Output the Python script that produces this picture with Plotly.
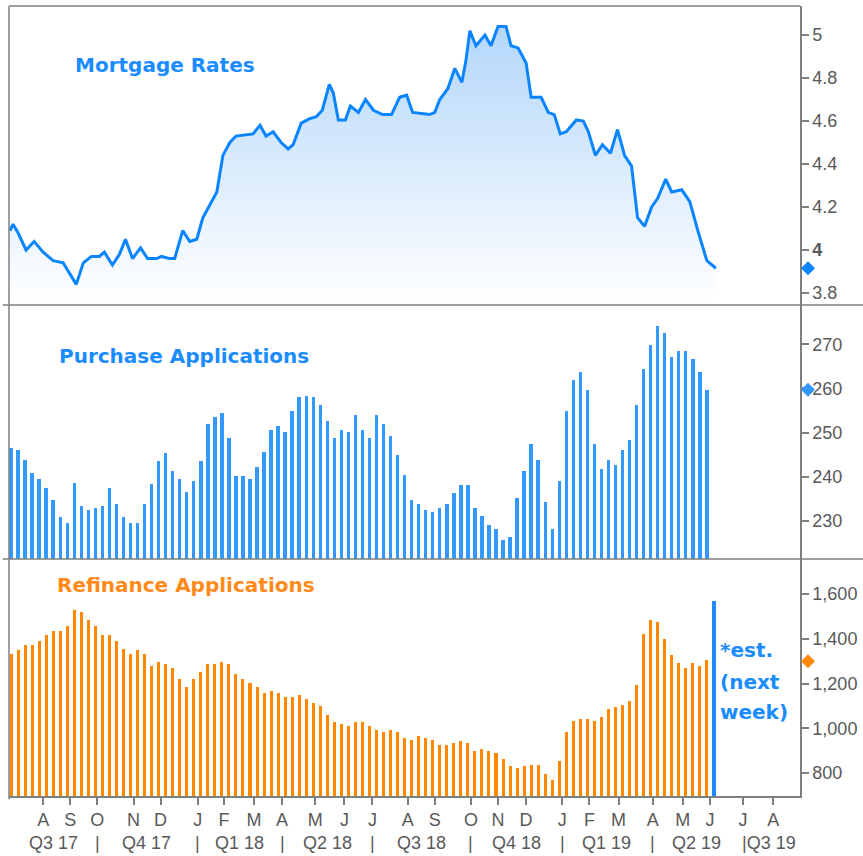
import plotly.graph_objects as go
import datetime as _dt

# ---------------- data ----------------
rate_dates = ["2017-06-29","2017-07-02","2017-07-07","2017-07-15","2017-07-23","2017-08-01","2017-08-11",
    "2017-08-21","2017-09-03","2017-09-10","2017-09-18","2017-09-26","2017-10-01","2017-10-09","2017-10-16",
    "2017-10-22","2017-10-29","2017-11-06","2017-11-13","2017-11-22","2017-11-27","2017-12-05","2017-12-10",
    "2017-12-18","2017-12-25","2018-01-01","2018-01-07","2018-01-15","2018-01-21","2018-01-27","2018-02-03",
    "2018-02-09","2018-02-19","2018-02-26","2018-03-05","2018-03-11","2018-03-18","2018-03-26","2018-04-02",
    "2018-04-07","2018-04-15","2018-04-23","2018-04-30","2018-05-06","2018-05-13","2018-05-17","2018-05-22",
    "2018-05-29","2018-06-03","2018-06-11","2018-06-18","2018-06-26","2018-07-05","2018-07-14","2018-07-22",
    "2018-07-29","2018-08-04","2018-08-13","2018-08-21","2018-08-26","2018-08-31","2018-09-08","2018-09-15",
    "2018-09-22","2018-09-26","2018-09-30","2018-10-06","2018-10-15","2018-10-21","2018-10-28","2018-11-05",
    "2018-11-10","2018-11-17","2018-11-25","2018-11-30","2018-12-10","2018-12-17","2018-12-23","2018-12-29",
    "2019-01-04","2019-01-14","2019-01-21","2019-01-26","2019-02-02","2019-02-09","2019-02-17","2019-02-24",
    "2019-03-03","2019-03-10","2019-03-16","2019-03-23","2019-03-30","2019-04-05","2019-04-13","2019-04-19",
    "2019-04-29","2019-05-07","2019-05-15","2019-05-24","2019-06-02"]
rate_values = [4.09,4.12,4.08,4.00,4.04,3.99,3.95,
    3.94,3.84,3.94,3.97,3.97,3.99,3.93,3.98,
    4.05,3.96,4.01,3.96,3.96,3.97,3.96,3.96,
    4.09,4.04,4.05,4.15,4.22,4.27,4.44,4.50,
    4.53,4.535,4.54,4.58,4.53,4.55,4.50,4.47,
    4.49,4.59,4.61,4.62,4.65,4.77,4.73,4.605,
    4.605,4.67,4.64,4.70,4.65,4.63,4.63,4.71,
    4.72,4.64,4.635,4.63,4.64,4.70,4.75,4.845,
    4.78,4.88,5.02,4.95,5.00,4.95,5.04,5.04,
    4.95,4.94,4.87,4.71,4.71,4.64,4.63,4.54,
    4.55,4.605,4.60,4.55,4.44,4.49,4.45,4.56,
    4.44,4.39,4.15,4.11,4.20,4.24,4.33,4.27,
    4.28,4.225,4.09,3.95,3.915]

# weekly application data (index values), week of 2017-06-30 through 2019-05-24
week_start = "2017-06-30"
purchase = [246.6,246.0,243.9,240.9,239.5,237.4,234.8,230.8,229.5,238.7,
    233.4,232.6,232.9,233.4,237.4,233.9,230.8,229.5,229.5,233.9,
    238.3,243.5,245.3,241.3,239.5,236.5,239.1,243.5,251.9,253.6,
    254.4,248.8,240.1,240.1,239.5,242.2,245.6,250.6,251.4,250.1,
    254.9,258.0,258.4,258.0,256.2,252.7,248.8,250.6,250.1,254.0,
    250.6,248.8,254.0,251.9,249.2,244.9,240.5,234.8,233.9,232.6,
    232.1,232.9,233.9,236.4,238.2,238.2,232.9,231.2,229.1,228.2,
    225.6,226.4,235.1,241.3,247.4,243.9,234.2,228.2,239.1,254.9,
    262.0,263.7,259.7,247.4,241.7,243.9,242.6,246.1,248.3,256.2,
    264.5,269.8,274.2,272.5,267.2,268.5,268.5,266.7,263.7,259.7]
refinance = [1331,1349,1374,1374,1392,1417,1435,1435,1459,1530,
    1522,1486,1459,1417,1417,1392,1356,1331,1349,1331,
    1278,1296,1287,1271,1219,1184,1219,1251,1287,1287,
    1296,1287,1244,1219,1201,1184,1157,1166,1157,1141,
    1141,1148,1132,1114,1098,1062,1027,1020,1011,1027,
    1027,1011,993,985,993,985,958,949,967,958,
    949,924,924,933,942,933,897,908,897,890,
    863,830,822,830,837,837,796,770,855,984,
    1035,1044,1044,1035,1053,1087,1096,1103,1121,1192,
    1424,1483,1476,1398,1329,1294,1269,1294,1278,1304]
est_date = "2019-05-31"
est_value = 1570

last_rate_marker = 3.915
last_purchase_marker = 259.7
last_refi_marker = 1300

rate_tick_vals = [3.8, 4.0, 4.2, 4.4, 4.6, 4.8, 5.0]
rate_tick_text = ["3.8", "<b>4</b>", "4.2", "4.4", "4.6", "4.8", "5"]

month_tick_dates = ["2017-08-01","2017-08-28","2017-09-24","2017-10-30","2017-11-26","2018-01-02",
    "2018-01-28","2018-02-27","2018-03-27","2018-04-29","2018-05-28","2018-06-25","2018-07-30",
    "2018-08-26","2018-10-01","2018-10-28","2018-11-25","2018-12-31","2019-01-27","2019-02-25",
    "2019-03-31","2019-04-30","2019-05-27","2019-06-29","2019-07-29"]
month_tick_labels = ["A","S","O","N","D","J","F","M","A","M","J","J","A",
    "S","O","N","D","J","F","M","A","M","J","J","A"]
quarter_labels = ["Q3 17","Q4 17","Q1 18","Q2 18","Q3 18","Q4 18","Q1 19","Q2 19"]
quarter_label_dates = ["2017-08-11","2017-11-12","2018-02-13","2018-05-11","2018-08-13",
    "2018-11-15","2019-02-13","2019-05-14"]
quarter_sep_dates = ["2017-09-24","2018-01-02","2018-03-27","2018-06-25","2018-10-01",
    "2018-12-31","2019-03-31"]
last_quarter_label = "|Q3 19"
last_quarter_date = "2019-06-29"

# ---------------- build ----------------
d0 = _dt.date.fromisoformat(week_start)
week_dates = [(d0 + _dt.timedelta(days=7 * i)).isoformat() for i in range(len(purchase))]

DAY = 86400000
BLUE_LINE = "#0a84ff"
BLUE_BAR = "#3399ff"
ORANGE = "#ff8800"
GRAY = "#7f7f7f"
TICKC = "#595959"
TFONT = dict(family="Liberation Sans, Arial, sans-serif", size=18, color=TICKC)
TITLEF = "DejaVu Sans, Verdana, sans-serif"

fig = go.Figure()

fig.add_trace(go.Scatter(
    x=rate_dates, y=rate_values, mode="lines", xaxis="x", yaxis="y",
    line=dict(color=BLUE_LINE, width=3),
    fill="tozeroy",
    fillgradient=dict(type="vertical", start=3.76, stop=5.06,
                      colorscale=[[0, "rgba(255,255,255,1)"], [1, "rgb(178,214,250)"]]),
    hoverinfo="skip", showlegend=False))

fig.add_trace(go.Bar(x=week_dates, y=purchase, xaxis="x", yaxis="y2",
    marker=dict(color=BLUE_BAR, line=dict(width=0)), width=3.4 * DAY, showlegend=False))

fig.add_trace(go.Bar(x=week_dates, y=refinance, xaxis="x", yaxis="y3",
    marker=dict(color=ORANGE, line=dict(width=0)), width=3.0 * DAY, showlegend=False))

fig.add_trace(go.Bar(x=[est_date], y=[est_value], xaxis="x", yaxis="y3",
    marker=dict(color="#1e8cff", line=dict(width=0)), width=3.6 * DAY, showlegend=False))

D_BOT = [0.0, 0.3]
D_MID = [0.3, 0.6215]
D_TOP = [0.6215, 1.0]

yax_common = dict(side="right", anchor="x", showgrid=False, zeroline=False, showline=True,
                  linecolor=GRAY, linewidth=1.5, ticks="outside", ticklen=7, tickwidth=1.5,
                  tickcolor=GRAY, tickfont=TFONT, fixedrange=True, automargin=False)

fig.update_layout(
    width=863, height=856,
    margin=dict(l=9, r=63, t=6, b=60, autoexpand=False),
    paper_bgcolor="white", plot_bgcolor="white",
    bargap=0,
    xaxis=dict(type="date", range=["2017-06-28", "2019-08-24 18:00"], anchor="y3",
               showgrid=False, zeroline=False, showline=True, linecolor=GRAY, linewidth=1.5,
               ticks="outside", ticklen=7, tickwidth=1.5, tickcolor=GRAY, automargin=False,
               tickmode="array", tickvals=month_tick_dates, ticktext=month_tick_labels,
               tickfont=TFONT, fixedrange=True),
    yaxis=dict(domain=D_TOP, range=[3.744, 5.135], tickmode="array", tickvals=rate_tick_vals,
               ticktext=rate_tick_text, **yax_common),
    yaxis2=dict(domain=D_MID, range=[221.4, 278.9], dtick=10, tick0=230, **yax_common),
    yaxis3=dict(domain=D_BOT, range=[698, 1757], dtick=200, tick0=800, tickformat=",",
                **yax_common),
)

shapes = []
ln = dict(color=GRAY, width=1.5)
shapes.append(dict(type="line", xref="paper", yref="paper", x0=0, x1=1, y0=1, y1=1, line=ln))
shapes.append(dict(type="line", xref="paper", yref="paper", x0=0, x1=0, y0=-0.004, y1=1, line=ln))
for yy in (D_MID[0], D_TOP[0]):
    shapes.append(dict(type="line", xref="paper", yref="paper", x0=-0.008, x1=1.08,
                       y0=yy, y1=yy, line=ln))
# last-value diamonds just right of the value axes
for yv, yr, col in [(last_rate_marker, "y", BLUE_LINE), (last_purchase_marker, "y2", BLUE_BAR),
                    (last_refi_marker, "y3", ORANGE)]:
    shapes.append(dict(type="path", xref="paper", yref=yr, xsizemode="pixel", ysizemode="pixel",
                       xanchor=1.0101, yanchor=yv, path="M -7 0 L 0 7 L 7 0 L 0 -7 Z",
                       fillcolor=col, line=dict(width=0), layer="above"))
fig.update_layout(shapes=shapes)

ann = []
ann.append(dict(text="<b>Mortgage Rates</b>", xref="paper", yref="paper", x=0.0805, y=0.9253,
                xanchor="left", yanchor="middle", showarrow=False,
                font=dict(family=TITLEF, size=20, color="#1a8cff")))
ann.append(dict(text="<b>Purchase Applications</b>", xref="paper", yref="paper", x=0.0611, y=0.557,
                xanchor="left", yanchor="middle", showarrow=False,
                font=dict(family=TITLEF, size=20, color="#1a8cff")))
ann.append(dict(text="<b>Refinance Applications</b>", xref="paper", yref="paper", x=0.0582, y=0.2671,
                xanchor="left", yanchor="middle", showarrow=False,
                font=dict(family=TITLEF, size=20, color="#ff8a1a")))
for txt, yy in [("*est.", 0.1848), ("(next", 0.1447), ("week)", 0.1067)]:
    ann.append(dict(text="<b>" + txt + "</b>", xref="paper", yref="paper", x=0.8965, y=yy,
                    xanchor="left", yanchor="middle", showarrow=False,
                    font=dict(family=TITLEF, size=20, color="#1a8cff")))
for q, d in zip(quarter_labels, quarter_label_dates):
    ann.append(dict(text=q, xref="x", yref="paper", x=d, y=-0.0595, xanchor="center",
                    yanchor="middle", showarrow=False, font=TFONT))
for d in quarter_sep_dates:
    ann.append(dict(text="|", xref="x", yref="paper", x=d, y=-0.0595, xanchor="center",
                    yanchor="middle", showarrow=False, font=TFONT))
ann.append(dict(text=last_quarter_label, xref="x", yref="paper", x=last_quarter_date, y=-0.0595,
                xanchor="left", yanchor="middle", showarrow=False, font=TFONT, xshift=-3))
fig.update_layout(annotations=ann)

fig.write_html("out.html", config={"displayModeBar": False},
               post_script="document.body.style.margin='0';document.body.style.padding='0';")
